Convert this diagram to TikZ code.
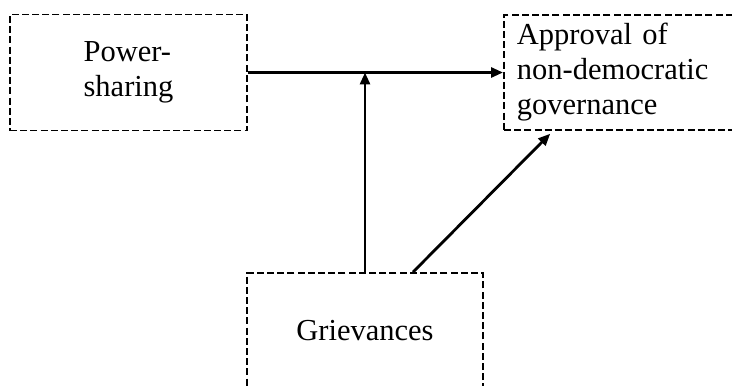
\documentclass[tikz,border=0pt]{standalone}
\usepackage{fontspec}
\setmainfont{Liberation Serif}
\usetikzlibrary{arrows.meta}

\tikzset{
  varbox/.style={draw, line width=0.9pt, dash pattern=on 3.5pt off 1.6pt,
    font=\fontsize{15.25}{17.5}\selectfont},
  arr/.style={line width=1.4pt, -{Triangle[length=6pt,width=5pt]}}
}

\begin{document}
\begin{tikzpicture}[x=0.5pt,y=-0.5pt]

\useasboundingbox (0,0) rectangle (732,385);
\clip (0,0) rectangle (732,385);

\node[varbox, minimum width=118.5pt, minimum height=58pt, align=left] (power) at (128.5,72.5) {Power-\\sharing};
\node[varbox, anchor=west, text width=120pt, inner xsep=6.5pt, minimum height=57.5pt, align=left] (approval) at (503,72.5) {Approval of\\non-democratic\\governance};
\node[varbox, minimum width=118pt, minimum height=58pt] (griev) at (365,331) {Grievances};

\coordinate (gtop) at ([xshift=24pt]griev.north);
\coordinate (abot) at ([xshift=25pt]approval.south west);

\draw[arr] (power.east) -- (approval.west);
\draw[arr] (griev.north) -- (griev.north |- power.east);
\draw[arr, shorten >=2pt] (gtop) -- (abot);

\end{tikzpicture}
\end{document}
